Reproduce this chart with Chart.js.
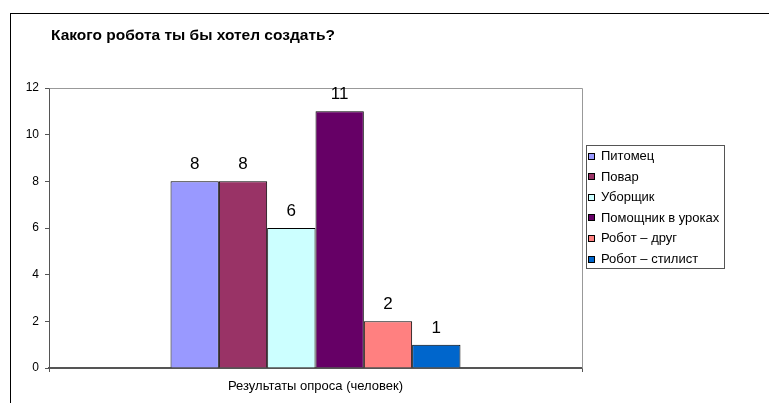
<!DOCTYPE html>
<html>
<head>
<meta charset="utf-8">
<script src="https://cdn.jsdelivr.net/npm/chart.js@4/dist/chart.umd.min.js"></script>
<style>
  html, body { margin: 0; padding: 0; background: #fff; }
  #wrap { width: 769px; height: 403px; }
</style>
</head>
<body>
<div id="wrap"><canvas id="c" width="769" height="403"></canvas></div>
<script>
const chartTitle = "Какого робота ты бы хотел создать?";
const categories = ["Результаты опроса (человек)"];
const seriesNames = ["Питомец", "Повар", "Уборщик", "Помощник в уроках", "Робот – друг", "Робот – стилист"];
const seriesValues = [8, 8, 6, 11, 2, 1];
const seriesColors = ["#9999FF", "#993366", "#CCFFFF", "#660066", "#FF8080", "#0066CC"];
const yTicks = [0, 2, 4, 6, 8, 10, 12];

const FONT = "'Liberation Sans', Arial, sans-serif";

const datasets = seriesNames.map((name, i) => ({
  label: name,
  data: [seriesValues[i]],
  backgroundColor: seriesColors[i],
  borderColor: "#000000",
  borderWidth: 1,
  borderSkipped: "bottom",
  categoryPercentage: 0.544,
  barPercentage: 1.0
}));

const decorPlugin = {
  id: "decor",
  beforeDraw(chart) {
    const ctx = chart.ctx;
    ctx.save();
    ctx.fillStyle = "#ffffff";
    ctx.fillRect(0, 0, chart.width, chart.height);
    ctx.strokeStyle = "#000000";
    ctx.lineWidth = 1;
    ctx.strokeRect(10.5, 13.5, chart.width + 20, chart.height + 20);
    ctx.fillStyle = "#000000";
    ctx.font = "bold 15.5px " + FONT;
    ctx.textBaseline = "middle";
    ctx.textAlign = "left";
    ctx.fillText(chartTitle, 51, 36);
    ctx.restore();
  },
  beforeDatasetsDraw(chart) {
    const a = chart.chartArea;
    const ctx = chart.ctx;
    ctx.save();
    ctx.strokeStyle = "#999999";
    ctx.lineWidth = 1;
    ctx.beginPath();
    ctx.moveTo(Math.round(a.left) + 0.5, Math.round(a.top) + 0.5);
    ctx.lineTo(Math.round(a.right) + 0.5, Math.round(a.top) + 0.5);
    ctx.lineTo(Math.round(a.right) + 0.5, Math.round(a.bottom) + 0.5);
    ctx.stroke();
    ctx.restore();
  },
  afterDatasetsDraw(chart) {
    const ctx = chart.ctx;
    ctx.save();
    ctx.fillStyle = "#000000";
    ctx.font = "17px " + FONT;
    ctx.textAlign = "center";
    ctx.textBaseline = "alphabetic";
    chart.data.datasets.forEach((ds, i) => {
      const meta = chart.getDatasetMeta(i);
      meta.data.forEach((bar, j) => {
        ctx.fillText(String(ds.data[j]), bar.x, bar.y - 12);
      });
    });
    ctx.restore();
  },
  afterDraw(chart) {
    const ctx = chart.ctx;
    const lx = 586, ly = 145, lw = 138, lh = 123;
    ctx.save();
    ctx.strokeStyle = "#555555";
    ctx.lineWidth = 1;
    ctx.strokeRect(lx + 0.5, ly + 0.5, lw, lh);
    ctx.font = "13px " + FONT;
    ctx.textBaseline = "middle";
    ctx.textAlign = "left";
    chart.data.datasets.forEach((ds, i) => {
      const cy = 156 + i * 20.6;
      const by = Math.round(cy - 3.5);
      ctx.fillStyle = ds.backgroundColor;
      ctx.fillRect(588, by, 7, 7);
      ctx.strokeStyle = "#000000";
      ctx.strokeRect(588.5, by + 0.5, 6, 6);
      ctx.fillStyle = "#000000";
      ctx.fillText(ds.label, 601, cy + 0.5);
    });
    ctx.restore();
  }
};

new Chart(document.getElementById("c"), {
  type: "bar",
  data: { labels: categories, datasets: datasets },
  options: {
    responsive: false,
    animation: false,
    devicePixelRatio: 1,
    layout: { padding: { left: 0, top: 88, right: 187, bottom: 0 } },
    plugins: {
      legend: { display: false },
      title: { display: false },
      tooltip: { enabled: false }
    },
    scales: {
      x: {
        offset: true,
        afterFit(scale) { scale.height = 35; },
        border: { display: true, color: "#555555", width: 2 },
        grid: { display: true, offset: true, drawOnChartArea: false, drawTicks: true, tickLength: 4, color: "#555555" },
        ticks: { color: "#000000", font: { family: FONT, size: 13 }, padding: 7, maxRotation: 0 }
      },
      y: {
        min: 0,
        max: 12,
        afterFit(scale) { scale.width = 49; },
        afterBuildTicks(scale) { scale.ticks = yTicks.map(v => ({ value: v })); },
        border: { display: true, color: "#555555", width: 1 },
        grid: { display: true, drawOnChartArea: false, drawTicks: true, tickLength: 4, color: "#555555" },
        ticks: { color: "#000000", font: { family: FONT, size: 12 }, padding: 6 }
      }
    }
  },
  plugins: [decorPlugin]
});
</script>
</body>
</html>
